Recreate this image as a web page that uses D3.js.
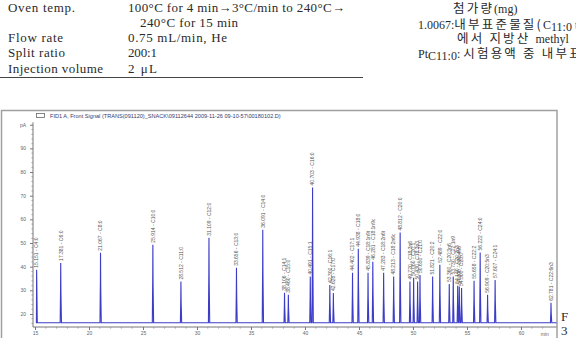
<!DOCTYPE html>
<html>
<head>
<meta charset="utf-8">
<script src="https://cdn.jsdelivr.net/npm/d3@7"></script>
<style>
  body { margin: 0; background: #fff; }
  svg { display: block; }
  .tbl { font-family: "Liberation Serif", "DejaVu Serif", serif; font-size: 13px; fill: #2a2a2a; }
  .lat { font-family: "Liberation Serif", "DejaVu Serif", serif; font-size: 12px; letter-spacing: 0; }
  .kor { font-family: "Noto Sans CJK KR", sans-serif; font-size: 12.5px; fill: #2a2a2a; letter-spacing: 2.2px; }
  .tick text { font-family: Arial, "Liberation Sans", sans-serif; font-size: 5px; fill: #666; }
</style>
</head>
<body>
<div id="chart"></div>
<script>
// retention times (min), peak heights (pA), peak names
const times = [15.151, 17.381, 21.067, 25.914, 28.512, 31.109, 33.656, 36.091, 38.106, 38.460,
  40.491, 40.703, 42.300, 42.628, 44.402, 44.938, 45.839, 46.281, 47.283, 48.213,
  48.812, 49.720, 50.060, 50.430, 50.650, 51.821, 52.489, 53.360, 53.730, 54.140,
  54.290, 54.500, 55.658, 56.222, 56.909, 57.607, 62.781];
const heights = [38.7, 41.6, 45.9, 49.3, 33.7, 52.2, 39.5, 55.6, 29.0, 28.1,
  35.8, 73.5, 32.3, 28.9, 37.4, 47.6, 37.4, 42.1, 37.4, 35.8,
  54.4, 33.7, 35.3, 33.7, 36.5, 35.8, 40.8, 32.7, 35.8, 31.9,
  31.6, 31.0, 34.0, 46.0, 28.1, 34.4, 24.7];
const names = ["C4:0", "C6:0", "C8:0", "C10:0", "C11:0", "C12:0", "C13:0", "C14:0", "C14:1", "C15:0",
  "C15:1", "C16:0", "C16:1", "C17:0", "C17:1", "C18:0", "C18:1n9t", "C18:1n9c", "C18:2n6t", "C18:2n6c",
  "C20:0", "C18:3n6", "C20:1", "C18:3n3", "C21:0", "C20:2", "C22:0", "C20:3n6", "C22:1n9", "C20:3n3",
  "C20:4n6", "C23:0", "C22:2", "C24:0", "C20:5n3", "C24:1", "C22:6n3"];
const baseline = 16.3;
const xTicks = [15, 20, 25, 30, 35, 40, 45, 50, 55, 60];
const yTicks = [20, 30, 40, 50, 60, 70, 80, 90, 100];

// GC conditions table
const condLabels = ["Oven temp.", "", "Flow rate", "Split ratio", "Injection volume"];
const condValues = ["100\u00B0C for 4 min\u21923\u00B0C/min to 240\u00B0C\u2192", "240\u00B0C for 15 min",
  "0.75 mL/min, He", "200:1", "2 \u03BCL"];

const W = 576, H = 338;
const svg = d3.select("#chart").append("svg").attr("width", W).attr("height", H);

// ---- table text above the chart ----
const rowY = [11.5, 26.5, 42, 57, 72.5];
const labelW = [67, 0, 55, 57, 95];
const valueW = [217, 98, 99, 29, 29];
condLabels.forEach(function (t, i) {
  if (t) svg.append("text").attr("class", "tbl").attr("x", 8).attr("y", rowY[i])
    .attr("textLength", labelW[i]).attr("lengthAdjust", "spacing").text(t);
  svg.append("text").attr("class", "tbl").attr("x", i == 1 ? 140 : 128).attr("y", rowY[i])
    .attr("textLength", valueW[i]).attr("lengthAdjust", "spacing").text(condValues[i]);
});
svg.append("line").attr("x1", 0).attr("x2", 363).attr("y1", 77.5).attr("y2", 77.5)
  .attr("stroke", "#444").attr("stroke-width", 1);

// right-hand text (cut by the page edge in the source)
const r1 = svg.append("text").attr("class", "kor").attr("x", 453).attr("y", 12.5);
r1.append("tspan").text("첨가량");
r1.append("tspan").attr("class", "lat").text("(mg)");
const r2 = svg.append("text").attr("class", "kor").attr("x", 418).attr("y", 28.5);
r2.append("tspan").attr("class", "lat").text("1.0067:");
r2.append("tspan").text("내부표준물질(");
r2.append("tspan").attr("class", "lat").text("C");
r2.append("tspan").attr("class", "lat").attr("font-size", 7.5).attr("dy", 2).text("11:0");
r2.append("tspan").attr("class", "lat").attr("dy", -2).text(" tr");
const r3 = svg.append("text").attr("class", "kor").attr("x", 457).attr("y", 43);
r3.append("tspan").text("에서 지방산 ");
r3.append("tspan").attr("class", "lat").text("methyl");
const r4 = svg.append("text").attr("class", "kor").attr("x", 418).attr("y", 58);
r4.append("tspan").attr("class", "lat").text("Pt");
r4.append("tspan").attr("class", "lat").attr("font-size", 7.5).attr("dy", 2).text("C11:0");
r4.append("tspan").attr("class", "lat").attr("dy", -2).text(": ");
r4.append("tspan").text("시험용액 중 내부표");

svg.append("text").attr("class", "tbl").attr("font-size", 14).attr("x", 561).attr("y", 321).text("F");
svg.append("text").attr("class", "tbl").attr("font-size", 14).attr("x", 561).attr("y", 335).text("3");

// ---- chromatogram ----
svg.append("rect").attr("x", 1.5).attr("y", 110.5).attr("width", 555.5).attr("height", 240)
  .attr("fill", "none").attr("stroke", "#a0a0a0").attr("stroke-width", 1.5);

const x = d3.scaleLinear().domain([15, 63.3]).range([35, 556.6]);
const y = d3.scaleLinear().domain([14.5, 102]).range([327, 120]);

// title / legend
svg.append("rect").attr("x", 36.5).attr("y", 113.5).attr("width", 8).attr("height", 4)
  .attr("fill", "none").attr("stroke", "#666").attr("stroke-width", 0.8);
svg.append("text").attr("x", 50).attr("y", 118)
  .style("font-family", "Arial, 'Liberation Sans', sans-serif").style("font-size", "5.6px").style("fill", "#3a3a6a")
  .text("FID1 A, Front Signal (TRANS(091120)_SNACK\\09112644 2009-11-26 09-10-57\\00180102.D)");

// y axis
const yAxis = d3.axisLeft(y).tickValues(yTicks).tickSize(3).tickPadding(4)
  .tickFormat(function (d) { return d == 100 ? "pA" : d; });
const gy = svg.append("g").attr("transform", "translate(33,0)").call(yAxis);
gy.select(".domain").remove();
gy.append("line").attr("x1", 0).attr("x2", 0).attr("y1", y(101)).attr("y2", y(14.5)).attr("stroke", "#777");
gy.selectAll("line").attr("stroke", "#777");
gy.selectAll(".minor").data(d3.range(16, 101, 2).filter(function (d) { return d % 10 != 0; }))
  .enter().append("line").attr("class", "minor")
  .attr("x1", -1.5).attr("x2", 0).attr("y1", function (d) { return y(d); }).attr("y2", function (d) { return y(d); })
  .attr("stroke", "#999");

// x axis
const xAxis = d3.axisBottom(x).tickValues(xTicks).tickSize(3).tickPadding(1);
const gx = svg.append("g").attr("transform", "translate(0,327)").call(xAxis);
gx.select(".domain").remove();
gx.append("line").attr("x1", 33).attr("x2", x(63.3)).attr("y1", 0).attr("y2", 0).attr("stroke", "#777");
gx.selectAll("line").attr("stroke", "#777");
gx.selectAll(".minor").data(d3.range(16, 63, 1).filter(function (d) { return d % 5 != 0; }))
  .enter().append("line").attr("class", "minor")
  .attr("x1", function (d) { return x(d); }).attr("x2", function (d) { return x(d); })
  .attr("y1", 0).attr("y2", 1.5).attr("stroke", "#999");
gx.append("text").attr("x", x(62.2)).attr("y", 9).attr("text-anchor", "middle")
  .style("font-family", "Arial, sans-serif").style("font-size", "5px").style("fill", "#666").text("min");

// signal trace built from the peak list
const pts = [[15.08, baseline], [times[0] - 0.02, baseline], [times[0], heights[0]], [times[0] + 0.06, baseline]];
times.forEach(function (t, i) {
  if (i == 0) return;
  pts.push([t - 0.05, baseline], [t - 0.012, heights[i] * 0.6 + baseline * 0.4], [t, heights[i]], [t + 0.02, heights[i] * 0.5 + baseline * 0.5], [t + 0.07, baseline]);
});
pts.push([63.3, baseline]);
pts.sort(function (a, b) { return a[0] - b[0]; });

const line = d3.line().x(function (d) { return x(d[0]); }).y(function (d) { return y(d[1]); });
svg.append("path").datum(pts).attr("d", line)
  .attr("fill", "none").attr("stroke", "#3c3cc8").attr("stroke-width", 1.1);

// peak labels
svg.selectAll(".plabel").data(times).enter().append("text").attr("class", "plabel")
  .attr("transform", function (d, i) { return "translate(" + (x(d) + 1.8) + "," + (y(heights[i]) - 2) + ") rotate(-90)"; })
  .style("font-family", "Arial, 'Liberation Sans', sans-serif").style("font-size", "5px").style("fill", "#555")
  .text(function (d, i) { return d.toFixed(3) + " - " + names[i]; });
</script>
</body>
</html>
